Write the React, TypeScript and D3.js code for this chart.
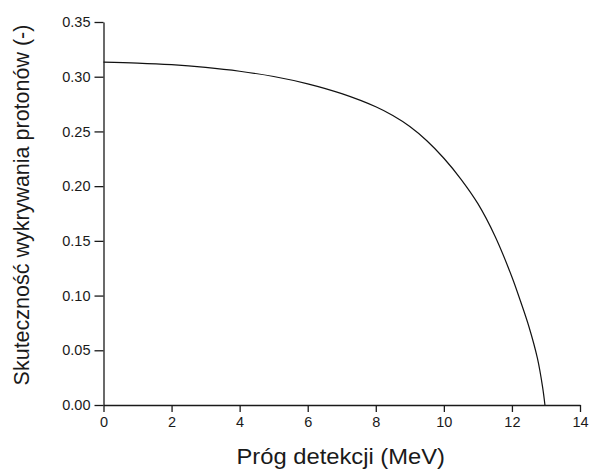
import React, { useEffect, useRef } from "react";
import * as d3 from "d3";

const thresholds = [0, 1, 2, 3, 4, 5, 6, 7, 8, 8.5, 9, 9.5, 10, 10.5, 11, 11.5, 12, 12.25, 12.5, 12.75, 12.9, 12.97];
const efficiency = [0.3133, 0.3125, 0.311, 0.3085, 0.305, 0.3002, 0.2935, 0.2845, 0.2725, 0.2645, 0.2545, 0.2415, 0.2255, 0.2065, 0.184, 0.1545, 0.117, 0.095, 0.0715, 0.0425, 0.0165, 0.0];
const xTicks = [0, 2, 4, 6, 8, 10, 12, 14];
const yTicks = [0, 0.05, 0.1, 0.15, 0.2, 0.25, 0.3, 0.35];
const xLabel = "Próg detekcji (MeV)";
const yLabel = "Skuteczność wykrywania protonów (-)";

export default function App() {
  const ref = useRef<SVGSVGElement>(null);
  useEffect(() => {
    const svg = d3.select(ref.current);
    svg.selectAll("*").remove();
    const left = 103.5, right = 580, top = 22, bottom = 405;
    const x = d3.scaleLinear().domain([0, 14]).range([left, right]);
    const y = d3.scaleLinear().domain([0, 0.35]).range([bottom, top]);
    const font = "'Liberation Sans', Arial, sans-serif";
    const col = "#1a1a1a";

    const gx = svg.append("g").attr("transform", `translate(0,${bottom})`);
    gx.call(d3.axisBottom(x).tickValues(d3.range(1, 14, 2)).tickSize(4).tickFormat(() => ""));
    gx.call(d3.axisBottom(x).tickValues(xTicks).tickSize(7).tickSizeOuter(0).tickPadding(5).tickFormat(d3.format("d")) as any);
    gx.selectAll("path").attr("stroke", col).attr("stroke-width", 1.3);
    gx.selectAll("line").attr("stroke", col).attr("stroke-width", 1.3);
    gx.selectAll("text").attr("font-family", font).attr("font-size", 14.5).attr("fill", col);

    const gy = svg.append("g").attr("transform", `translate(${left},0)`);
    gy.call(d3.axisLeft(y).tickValues(d3.range(0.025, 0.35, 0.05)).tickSize(5).tickFormat(() => ""));
    gy.call(d3.axisLeft(y).tickValues(yTicks).tickSize(9).tickSizeOuter(0).tickPadding(4).tickFormat(d3.format(".2f")) as any);
    gy.selectAll("path").attr("stroke", col).attr("stroke-width", 1.3);
    gy.selectAll("line").attr("stroke", col).attr("stroke-width", 1.3);
    gy.selectAll("text").attr("font-family", font).attr("font-size", 14.5).attr("fill", col);

    const line = d3.line<number>()
      .x((_, i) => x(thresholds[i]))
      .y((d) => y(d))
      .curve(d3.curveCatmullRom.alpha(0.5));
    svg.append("path")
      .datum(efficiency)
      .attr("d", line)
      .attr("fill", "none")
      .attr("stroke", "#111")
      .attr("stroke-width", 1.2);

    svg.append("text")
      .attr("transform", `translate(${(left + right) / 2 - 1},464) scale(1.08,1)`)
      .attr("text-anchor", "middle")
      .attr("font-family", font)
      .attr("font-size", 22)
      .attr("fill", col)
      .text(xLabel);

    svg.append("text")
      .attr("transform", `translate(29,205) rotate(-90)`)
      .attr("text-anchor", "middle")
      .attr("font-family", font)
      .attr("font-size", 21.5)
      .attr("fill", col)
      .text(yLabel);
  }, []);
  return (
    <svg ref={ref} width={589} height={469} style={{ position: "absolute", left: 0, top: 0, background: "#fff" }} />
  );
}
